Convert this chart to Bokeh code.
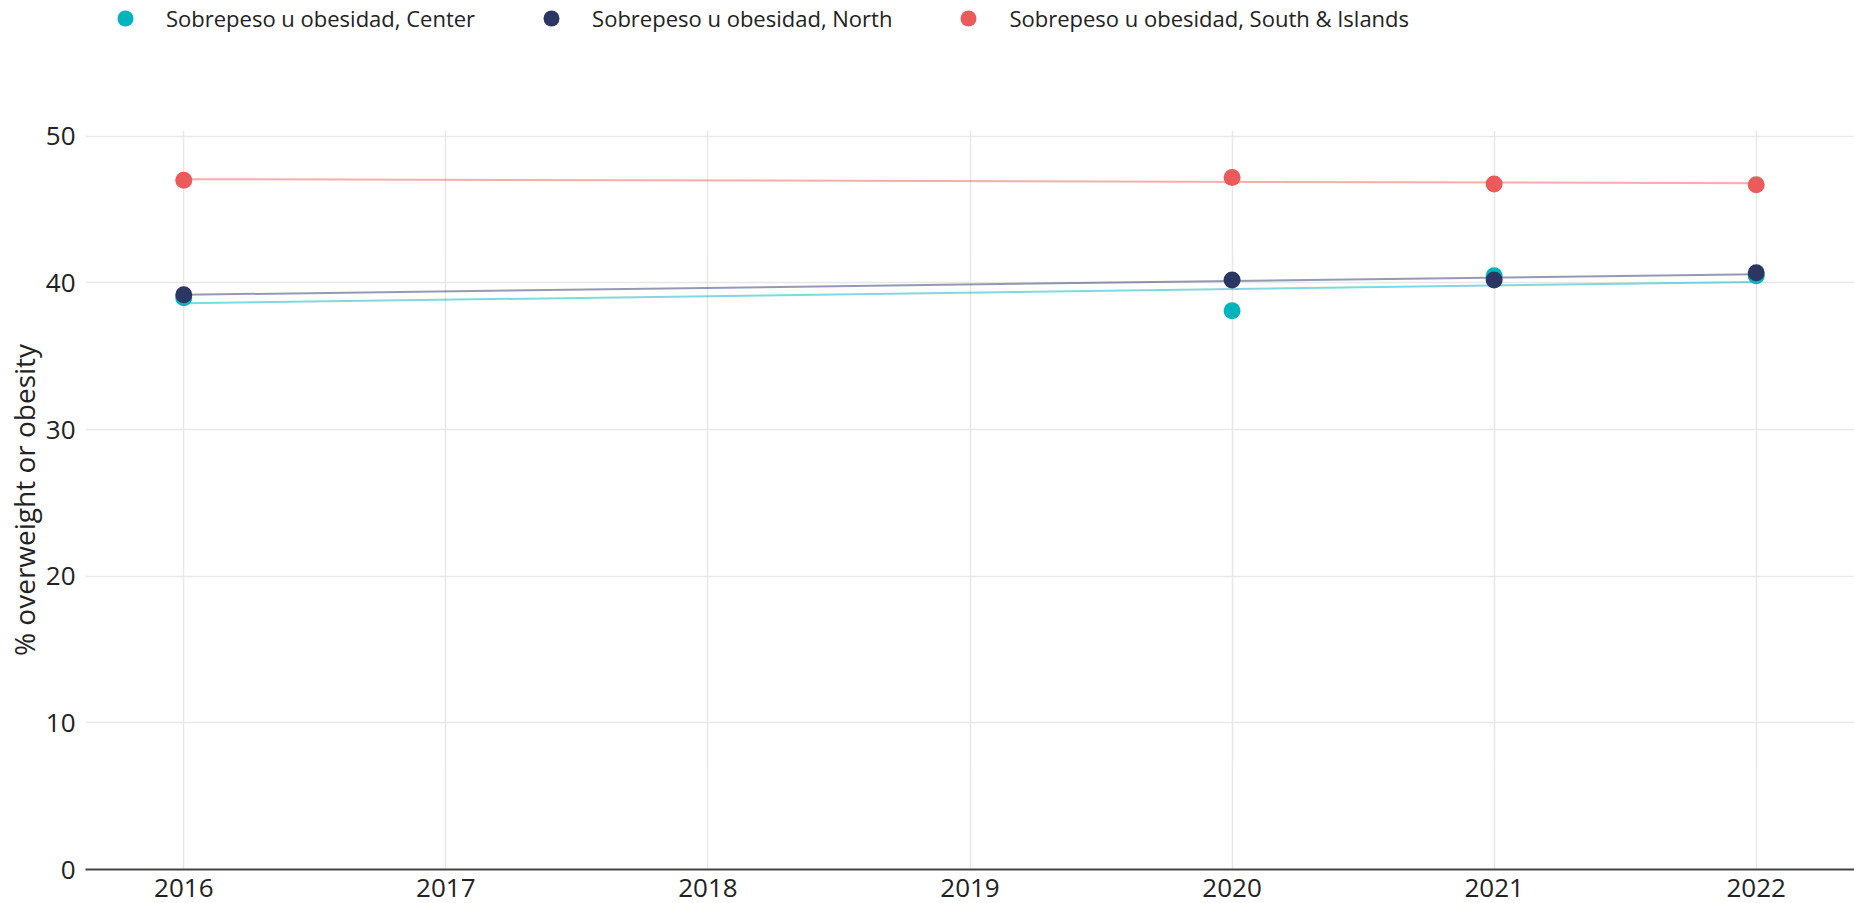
import numpy as np
from bokeh.plotting import figure
from bokeh.layouts import column
from bokeh.models import Legend, LegendItem, Range1d, FixedTicker
from bokeh.embed import file_html
from bokeh.resources import INLINE

# ---- data ----
years = [2016, 2020, 2021, 2022]
center = [39.0, 38.1, 40.5, 40.5]
north = [39.2, 40.2, 40.2, 40.7]
south = [47.0, 47.2, 46.75, 46.7]
series_names = ["Sobrepeso u obesidad, Center",
                "Sobrepeso u obesidad, North",
                "Sobrepeso u obesidad, South & Islands"]
series_values = [center, north, south]
colors = ["#00B4BE", "#2B3663", "#EC5B5B"]
x_ticks = [2016, 2017, 2018, 2019, 2020, 2021, 2022]
y_ticks = [0, 10, 20, 30, 40, 50]
y_label = "% overweight or obesity"

FONT = "Open Sans"
W, H_TOP, H_MAIN = 1854, 110, 793

# ---- main chart ----
p = figure(width=W, height=H_MAIN, output_backend="svg", toolbar_location=None,
           x_range=Range1d(2015.625, 2022.375), y_range=Range1d(0, 50.4),
           min_border_left=85, min_border_right=0, min_border_top=20, min_border_bottom=34)
p.outline_line_color = None
p.background_fill_color = "white"
p.border_fill_color = "white"

p.xgrid.ticker = FixedTicker(ticks=x_ticks)
p.ygrid.ticker = FixedTicker(ticks=y_ticks)
for g in (p.xgrid, p.ygrid):
    g.grid_line_color = "#E8E8E8"
    g.grid_line_width = 1.5

p.xaxis.ticker = FixedTicker(ticks=x_ticks)
p.yaxis.ticker = FixedTicker(ticks=y_ticks)
for ax in (p.xaxis, p.yaxis):
    ax.major_tick_line_color = None
    ax.minor_tick_line_color = None
    ax.major_label_text_font = FONT
    ax.major_label_text_font_size = "26px"
    ax.major_label_text_color = "#222222"
p.xaxis.axis_line_color = "#444444"
p.xaxis.axis_line_width = 2
p.xaxis.major_label_standoff = 3
p.yaxis.axis_line_color = None
p.yaxis.major_label_standoff = 4
p.yaxis.axis_label = y_label
p.yaxis.axis_label_text_font = FONT
p.yaxis.axis_label_text_font_size = "28px"
p.yaxis.axis_label_text_font_style = "normal"
p.yaxis.axis_label_text_color = "#222222"
p.yaxis.axis_label_standoff = 0

# ---- legend strip on top ----
lg = figure(width=W, height=H_TOP, output_backend="svg", toolbar_location=None,
            x_range=Range1d(2015.625, 2022.375), y_range=Range1d(0, 50.4),
            x_axis_location=None, y_axis_location=None,
            min_border_left=0, min_border_right=0, min_border_top=0, min_border_bottom=0)
lg.outline_line_color = None
lg.grid.visible = False
lg.background_fill_color = "white"
lg.border_fill_color = "white"

items = []
xs = np.array(years, dtype=float)
for name, vals, col in zip(series_names, series_values, colors):
    vals = np.array(vals, dtype=float)
    slope, intercept = np.polyfit(xs, vals, 1)
    lx = np.array([xs.min(), xs.max()])
    p.line(lx, slope * lx + intercept, line_color=col, line_alpha=0.5, line_width=2)
    p.scatter(xs, vals, size=17, fill_color=col, line_color=col, line_width=0)
    # key glyph for the legend strip (not drawn itself)
    r = lg.scatter(xs, vals, size=17, fill_color=col, line_color=col, line_width=0, visible=False)
    items.append(LegendItem(label=name, renderers=[r]))

legend = Legend(items=items, orientation="horizontal", location=(20, 72),
                glyph_width=40, glyph_height=40, label_standoff=21, spacing=56,
                padding=0, margin=0, border_line_color=None, background_fill_alpha=0,
                label_text_font=FONT, label_text_font_size="22px",
                label_text_color="#222222")
lg.add_layout(legend)

layout = column(lg, p, spacing=0)
open("out.html", "w").write(file_html(layout, INLINE))
